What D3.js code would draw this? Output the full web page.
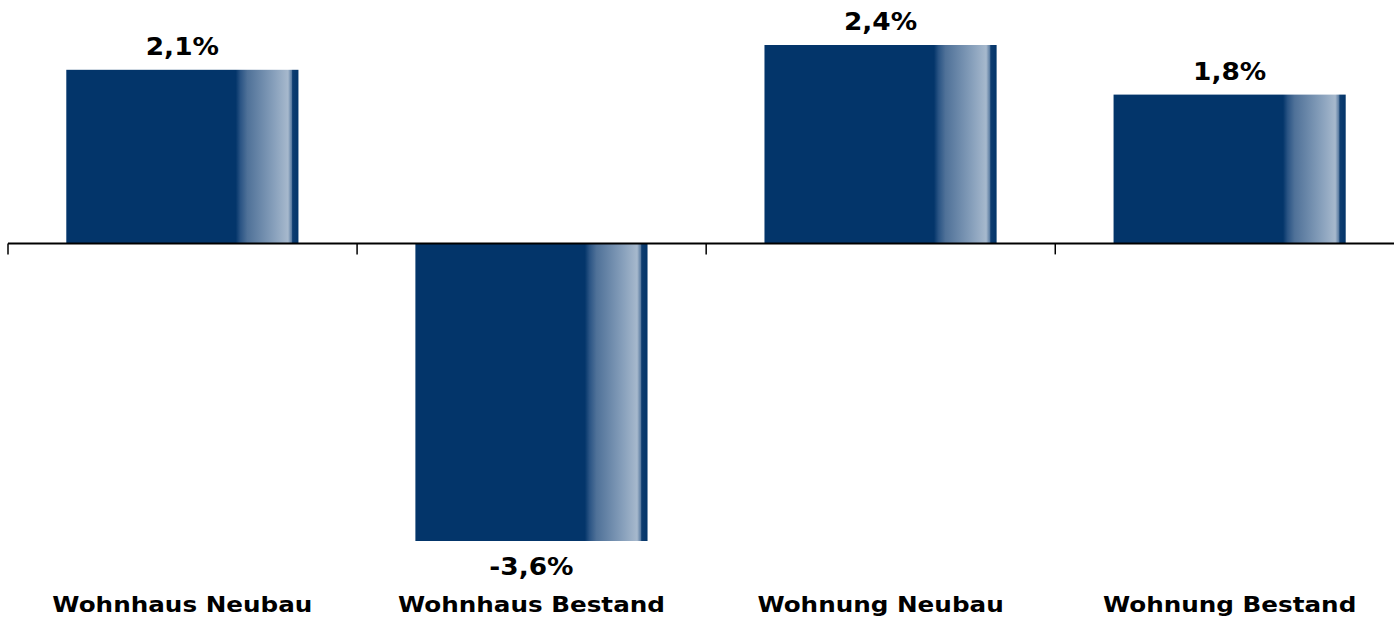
<!DOCTYPE html>
<html>
<head>
<meta charset="utf-8">
<script src="https://cdn.jsdelivr.net/npm/d3@7"></script>
<style>
  body { margin: 0; background: #fff; }
  svg { display: block; }
  text { font-family: "DejaVu Sans", Verdana, sans-serif; font-weight: bold; fill: #000; }
</style>
</head>
<body>
<script>
// data
const categories = ["Wohnhaus Neubau", "Wohnhaus Bestand", "Wohnung Neubau", "Wohnung Bestand"];
const values = [2.1, -3.6, 2.4, 1.8];
const labels = ["2,1%", "-3,6%", "2,4%", "1,8%"];

let width = 1394, height = 618;

const svg = d3.select("body").append("svg")
    .attr("width", width)
    .attr("height", height);

const x = d3.scaleBand()
    .domain(categories)
    .range([8, 1404])
    .paddingInner(0.335)
    .paddingOuter(0.167);

const y = d3.scaleLinear()
    .domain([-3.6, 2.4])
    .range([541, 45]);

// bar shading
const defs = svg.append("defs");
const grad = defs.append("linearGradient")
    .attr("id", "barGrad")
    .attr("x1", "0").attr("x2", "1").attr("y1", "0").attr("y2", "0");
[
    [0, "#03356a"], [0.73, "#03356a"], [0.75, "#2a5484"], [0.78, "#4f7198"],
    [0.9, "#8aa2bd"], [0.955, "#a7b9cd"], [0.97, "#5d7ea3"], [0.975, "#0e3d70"], [1, "#03356a"]
].forEach(([o, c]) => grad.append("stop").attr("offset", o).attr("stop-color", c));

svg.append("g").selectAll("rect")
    .data(values)
    .join("rect")
    .attr("x", (d, i) => x(categories[i]))
    .attr("width", x.bandwidth())
    .attr("y", d => y(Math.max(0, d)))
    .attr("height", d => Math.abs(y(d) - y(0)))
    .attr("fill", "url(#barGrad)");

// axis line with ticks at category boundaries
const axis = svg.append("g").attr("stroke", "#000");
axis.append("line")
    .attr("x1", 8).attr("x2", width)
    .attr("y1", y(0)).attr("y2", y(0))
    .attr("stroke-width", 2);
const edge = c => x(c) - x.step() * x.paddingOuter();
axis.selectAll("line.tick")
    .data(categories)
    .join("line")
    .attr("class", "tick")
    .attr("x1", edge)
    .attr("x2", edge)
    .attr("y1", y(0))
    .attr("y2", y(0) + 11)
    .attr("stroke-width", 1.5);

// widen DejaVu glyphs a little towards the original (Verdana-like) look
function stretch(sel, k) {
    sel.each(function() {
        const w = this.getComputedTextLength();
        d3.select(this).attr("textLength", w * k).attr("lengthAdjust", "spacingAndGlyphs");
    });
}

// value labels
svg.append("g").selectAll("text")
    .data(values)
    .join("text")
    .attr("x", (d, i) => x(categories[i]) + x.bandwidth() / 2)
    .attr("y", d => d >= 0 ? y(d) - 15 : y(d) + 34)
    .attr("text-anchor", "middle")
    .attr("font-size", 24)
    .text((d, i) => labels[i])
    .call(stretch, 1.1);

// category labels
svg.append("g").selectAll("text")
    .data(categories)
    .join("text")
    .attr("x", d => x(d) + x.bandwidth() / 2)
    .attr("y", 612)
    .attr("text-anchor", "middle")
    .attr("font-size", 22)
    .text(d => d)
    .call(stretch, 1.12);
</script>
</body>
</html>
